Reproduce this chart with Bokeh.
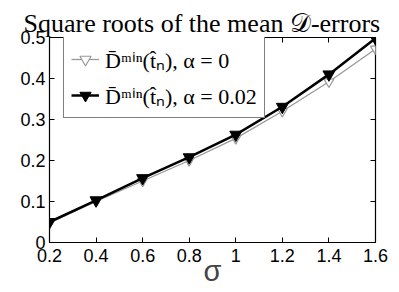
from bokeh.plotting import figure
from bokeh.models import LinearAxis, Range1d, FixedTicker, Legend, LegendItem
from bokeh.embed import file_html
from bokeh.resources import INLINE

sigma = [0.2, 0.4, 0.6, 0.8, 1.0, 1.2, 1.4, 1.6]
err_alpha0 = [0.048, 0.100, 0.150, 0.200, 0.254, 0.320, 0.392, 0.472]
err_alpha002 = [0.050, 0.103, 0.157, 0.208, 0.263, 0.331, 0.410, 0.498]
x_ticks = [0.2, 0.4, 0.6, 0.8, 1.0, 1.2, 1.4, 1.6]
y_ticks = [0, 0.1, 0.2, 0.3, 0.4, 0.5]
x_labels = {0.2: "0.2", 0.4: "0.4", 0.6: "0.6", 0.8: "0.8", 1.0: "1", 1.2: "1.2", 1.4: "1.4", 1.6: "1.6"}
y_labels = {0: "0", 0.1: "0.1", 0.2: "0.2", 0.3: "0.3", 0.4: "0.4", 0.5: "0.5"}

p = figure(width=399, height=292, output_backend="svg", toolbar_location=None,
           x_range=Range1d(0.2, 1.6), y_range=Range1d(0, 0.5),
           min_border_left=49, min_border_right=24, min_border_top=37, min_border_bottom=50,
           title="Square roots of the mean 𝒟-errors")
p.title.text_font = "Liberation Serif"
p.title.text_font_size = "26px"
p.title.text_font_style = "normal"
p.title.align = "left"
p.title.offset = -26
p.title.text_color = "black"
p.title.standoff = 0

p.xgrid.visible = False
p.ygrid.visible = False
p.outline_line_color = "black"
p.outline_line_width = 1.2
p.background_fill_color = "white"
p.border_fill_color = "white"

for ax in p.xaxis:
    ax.ticker = FixedTicker(ticks=x_ticks)
    ax.major_label_overrides = x_labels
    ax.major_label_standoff = 6
for ax in p.yaxis:
    ax.ticker = FixedTicker(ticks=y_ticks)
    ax.major_label_overrides = y_labels
    ax.major_label_standoff = 4

for ax in list(p.xaxis) + list(p.yaxis):
    ax.major_tick_in = 5
    ax.major_tick_out = 0
    ax.minor_tick_line_color = None
    ax.axis_line_color = "black"
    ax.major_label_text_font = "Liberation Sans"
    ax.major_label_text_font_size = "18px"
    ax.major_label_text_color = "black"

p.xaxis.axis_label = "σ"
p.xaxis.axis_label_text_font = "Liberation Sans"
p.xaxis.axis_label_text_font_size = "29px"
p.xaxis.axis_label_text_font_style = "normal"
p.xaxis.axis_label_standoff = -10

top = LinearAxis(ticker=FixedTicker(ticks=x_ticks), major_label_text_font_size="0px",
                 major_tick_in=5, major_tick_out=0, minor_tick_line_color=None, axis_line_color=None)
right = LinearAxis(ticker=FixedTicker(ticks=y_ticks), major_label_text_font_size="0px",
                   major_tick_in=5, major_tick_out=0, minor_tick_line_color=None, axis_line_color=None)
top.major_label_text_color = None
right.major_label_text_color = None
p.add_layout(top, "above")
p.add_layout(right, "right")

l0 = p.line(sigma, err_alpha0, line_color="#999999", line_width=1.3)
s0 = p.scatter(sigma, err_alpha0, marker="inverted_triangle", size=10,
               fill_color="white", line_color="#999999", line_width=1.2)
l1 = p.line(sigma, err_alpha002, line_color="black", line_width=2.5)
s1 = p.scatter(sigma, err_alpha002, marker="inverted_triangle", size=12,
               fill_color="black", line_color="black")

legend = Legend(items=[
    LegendItem(label="D̄ᵐⁱⁿ(t̂ₙ), α = 0", renderers=[l0, s0]),
    LegendItem(label="D̄ᵐⁱⁿ(t̂ₙ), α = 0.02", renderers=[l1, s1]),
], location=(14, 124))
legend.label_text_font = "Liberation Serif"
legend.label_text_font_size = "22px"
legend.label_text_color = "black"
legend.label_height = 28
legend.glyph_height = 28
legend.border_line_color = "black"
legend.border_line_width = 1
legend.glyph_width = 28
legend.label_standoff = 6
legend.spacing = 6
legend.padding = 7
legend.margin = 0
legend.background_fill_alpha = 1
p.add_layout(legend)

open("out.html", "w").write(file_html(p, INLINE))
